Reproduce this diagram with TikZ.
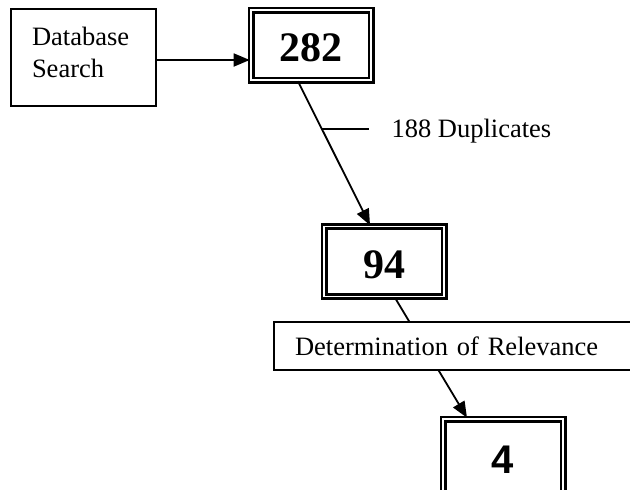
\documentclass[tikz,border=0pt]{standalone}
\usepackage{fontspec}
\setmainfont{Liberation Serif}
\newfontfamily\arialfont{Liberation Sans}
\usepackage{tikz}
\usetikzlibrary{arrows.meta, positioning, calc}

\begin{document}
\begin{tikzpicture}[
    x=1pt, y=-1pt,
    plain/.style={draw, line width=1.6pt, fill=white,
                  font=\fontsize{26.5}{32}\selectfont, align=left},
    countbox/.style={draw, double, line width=2.6pt, double distance=1.8pt,
                     minimum width=120pt, minimum height=70pt, text height=34pt,
                     font=\fontsize{42}{48}\selectfont\bfseries},
    flow/.style={-{Triangle[length=16pt, width=13pt]}, line width=1.8pt},
]
    \useasboundingbox (0,0) rectangle (630,490);

    % Search box and counts
    \node[plain, minimum width=145pt, minimum height=97pt,
          text width=103pt, inner xsep=21pt, text depth=43pt] (search) at (83.5,57.5)
          {Database\\Search};
    \node[countbox] (n282) at (311,45) {282};
    \node[countbox] (n94) at (384,261.5) {94};
    \node[countbox, minimum height=80pt, text height=28pt,
          font=\fontsize{40}{48}\selectfont\arialfont\bfseries]
          (n4) at (503,459) {4};

    % Arrows
    \draw[flow] ([yshift=-2.5pt]search.east) -- ([yshift=-15pt]n282.west);
    \draw[flow] ([xshift=-13pt]n282.south) coordinate (dtop)
        -- ([xshift=-14pt]n94.north) coordinate (dbot);
    \draw[flow] ([xshift=11pt]n94.south) -- ([xshift=-36pt]n4.north);

    % Duplicates label
    \coordinate (tap) at ($(dtop)!0.33!(dbot)$);
    \node[font=\fontsize{26.5}{32}\selectfont, anchor=west] (dup) at (388,131) {188 Duplicates};
    \draw[line width=1.8pt, shorten >=19pt] (tap) -- (tap -| dup.west);

    % Relevance box over the arrow
    \node[plain, minimum width=366pt, minimum height=48pt,
          text width=324pt, inner xsep=21pt] (relev) at (457,346)
          {Determination of Relevance};
\end{tikzpicture}
\end{document}
